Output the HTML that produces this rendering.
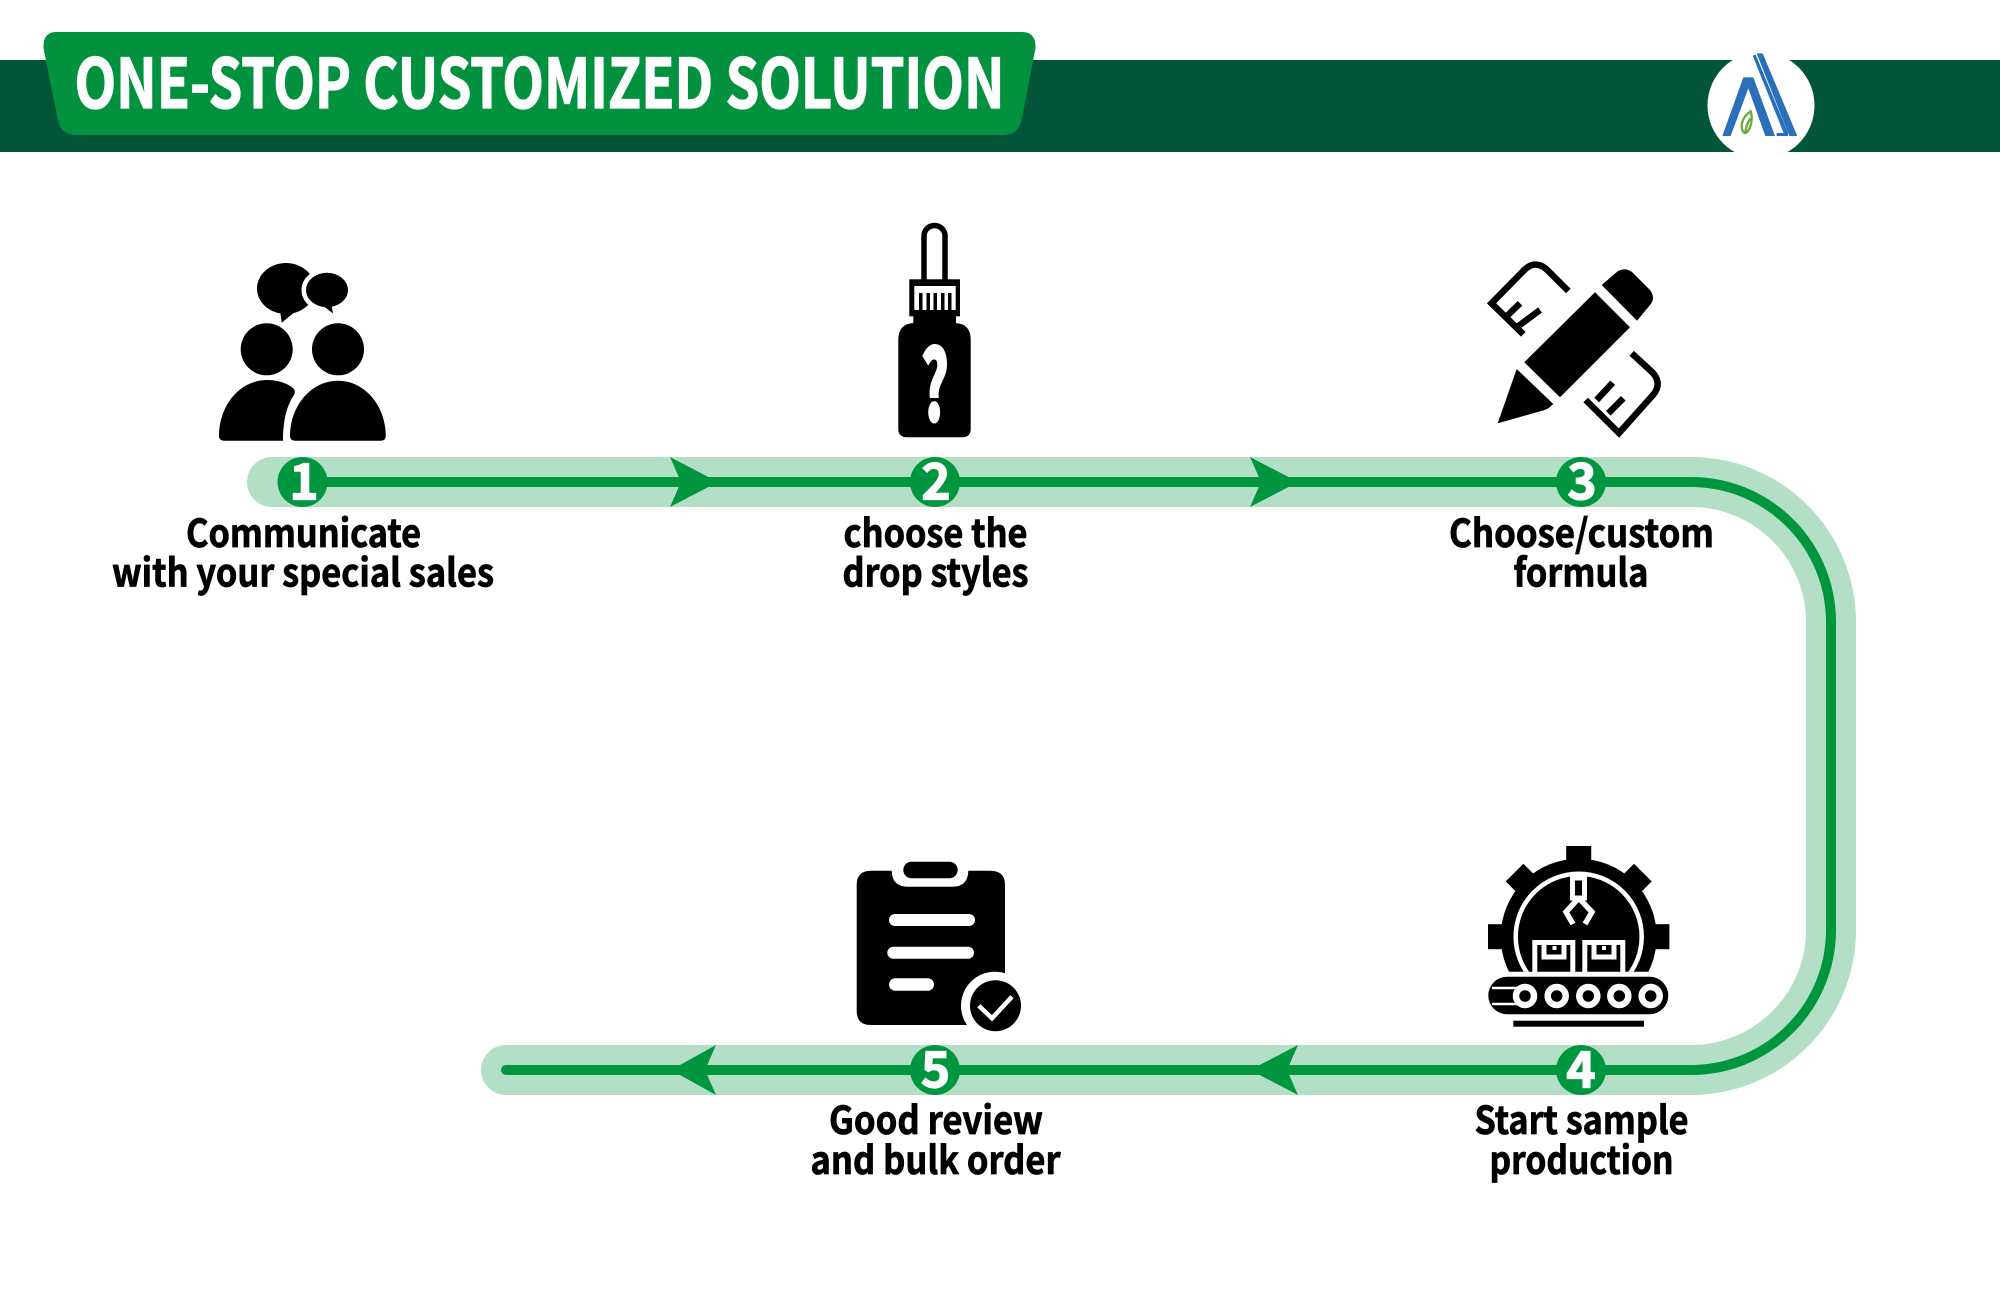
<!DOCTYPE html>
<html><head><meta charset="utf-8"><style>
html,body{margin:0;padding:0;background:#fff;width:2000px;height:1307px;overflow:hidden}
svg{display:block}
text{font-family:"Noto Sans CJK SC","Liberation Sans",sans-serif;font-weight:700}
.l{font-size:38.500px;fill:#000;stroke:#000;stroke-width:.8px}
.d{font-size:50px;fill:#fff;stroke:#fff;stroke-width:1.2px;text-anchor:middle}
</style></head><body>
<svg width="2000" height="1307" viewBox="0 0 2000 1307" xmlns="http://www.w3.org/2000/svg">
<defs><clipPath id="gc"><rect x="1470" y="830" width="220" height="141.7"/></clipPath></defs>
<!-- header -->
<rect x="0" y="60" width="2000" height="92" fill="#03553a"/>
<path d="M43.500 48 Q43 32 56 32 H1022 Q1036 32 1035.500 48 L1022 118 Q1019 135 1003 135 H76 Q60 135 57.500 118 Z" fill="#02923f"/>
<text x="74.500" y="108" font-size="68" fill="#fff" stroke="#fff" stroke-width="1.300" textLength="930" lengthAdjust="spacingAndGlyphs">ONE-STOP CUSTOMIZED SOLUTION</text>
<!-- logo -->
<circle cx="1761" cy="105.500" r="53.500" fill="#fff"/>
<g transform="translate(1680,40) scale(.33333)">
<polygon points="127,288 190,112 220,112 285,288 256,288 205,145 152,288" fill="#2a6fba"/>
<polygon points="230,40 248,40 352,288 328,288" fill="#2a6fba"/>
<polygon points="218,47 227,44 324,278 324,288 290,288 290,279 311,279" fill="#2a6fba"/>
<path d="M212 214 C185 232 178 262 192 278 C205 285 222 245 212 214Z" fill="none" stroke="#6aab3b" stroke-width="7"/>
<path d="M197 282 C195 262 205 245 212 235" fill="none" stroke="#6aab3b" stroke-width="7"/>
</g>
<!-- path -->
<path d="M272 482 H1691 A140 140 0 0 1 1831 622 V930 A140 140 0 0 1 1691 1070 H506" fill="none" stroke="#b2dfc5" stroke-width="50" stroke-linecap="round"/>
<path d="M302 482 H1691 A140 140 0 0 1 1831 622 V930 A140 140 0 0 1 1691 1070 H506" fill="none" stroke="#009640" stroke-width="10" stroke-linecap="round"/>
<polygon points="718,482 670,457 681,482 670,507" fill="#009640"/>
<polygon points="1298,482 1250,457 1261,482 1250,507" fill="#009640"/>
<polygon points="1250,1070 1298,1045 1287,1070 1298,1095" fill="#009640"/>
<polygon points="671,1070 716,1045 705,1070 716,1095" fill="#009640"/>
<!-- number circles -->
<g fill="#009640">
<circle cx="302.500" cy="482" r="25"/><circle cx="935" cy="482" r="25"/><circle cx="1581" cy="482" r="25"/>
<circle cx="1581" cy="1070" r="25"/><circle cx="935" cy="1070" r="25"/>
</g>
<text class="d" x="304" y="499.500">1</text>
<text class="d" x="936" y="499.500">2</text>
<text class="d" x="1582" y="499.500">3</text>
<text class="d" x="1581" y="1087.500">4</text>
<text class="d" x="935.500" y="1087.500">5</text>
<!-- labels -->
<text class="l" x="186" y="547" textLength="235" lengthAdjust="spacingAndGlyphs">Communicate</text>
<text class="l" x="112" y="586.500" textLength="382" lengthAdjust="spacingAndGlyphs">with your special sales</text>
<text class="l" x="843.500" y="547" textLength="184" lengthAdjust="spacingAndGlyphs">choose the</text>
<text class="l" x="842.500" y="586.500" textLength="186" lengthAdjust="spacingAndGlyphs">drop styles</text>
<text class="l" x="1449" y="547" textLength="265" lengthAdjust="spacingAndGlyphs">Choose/custom</text>
<text class="l" x="1513.500" y="586.500" textLength="135" lengthAdjust="spacingAndGlyphs">formula</text>
<text class="l" x="1474.500" y="1134" textLength="214" lengthAdjust="spacingAndGlyphs">Start sample</text>
<text class="l" x="1489.500" y="1174" textLength="184" lengthAdjust="spacingAndGlyphs">production</text>
<text class="l" x="829" y="1134" textLength="214" lengthAdjust="spacingAndGlyphs">Good review</text>
<text class="l" x="810.500" y="1174" textLength="250" lengthAdjust="spacingAndGlyphs">and bulk order</text>
<!-- people -->
<g fill="#000">
<ellipse cx="286" cy="288.500" rx="29" ry="25.500"/>
<polygon points="280,310 281.700,322.700 296,311"/>
<circle cx="266.700" cy="349.300" r="26"/>
<circle cx="338" cy="349.300" r="26"/>
<path d="M219 436 C219 405 240 380 267 380 C277 380 287 383 293 388 Q296 391 294 395 C287 405 283 420 283 440.700 H224 Q219 440.700 219 436Z"/>
<path d="M290 436 C290 405 312 380.700 338 380.700 C364 380.700 385.700 405 385.700 436 Q385.700 440.700 381 440.700 H295 Q290 440.700 290 436Z"/>
<ellipse cx="327" cy="290" rx="21" ry="17.200" stroke="#fff" stroke-width="9" paint-order="stroke"/>
<polygon points="322,305 333,313.500 331,303"/>
</g>
<!-- bottle -->
<g>
<path d="M924 282 V236 A10.500 10.500 0 0 1 945 236 V282" fill="none" stroke="#000" stroke-width="5.500"/>
<rect x="909.300" y="279.300" width="50.700" height="37" fill="#000"/>
<rect x="914.300" y="286" width="41.400" height="24" fill="#fff"/>
<g fill="#000">
<rect x="919" y="293" width="3.500" height="17"/><rect x="926.500" y="293" width="3.500" height="17"/>
<rect x="933.500" y="293" width="3.500" height="17"/><rect x="941" y="293" width="3.500" height="17"/><rect x="948" y="293" width="3.500" height="17"/>
<rect x="913.300" y="316" width="42.700" height="10"/>
<path d="M898.300 340 Q898.300 323 915 323 H954 Q970.700 323 970.700 340 V429 Q970.700 437.300 962 437.300 H907 Q898.300 437.300 898.300 429Z"/>
</g>
<text x="935" y="420" font-size="96" fill="#fff" stroke="#fff" stroke-width="4" text-anchor="middle" textLength="27" lengthAdjust="spacingAndGlyphs">?</text>
</g>
<!-- pencil and ruler -->
<g fill="#000">
<path d="M1601.700 285 L1618 271 Q1625 267 1632 272 L1650 290 Q1656 298 1650 305 L1637 320.700 Z"/>
<polygon points="1595,292.300 1630,327.300 1560,397.300 1524.300,362.300"/>
<path d="M1516.700 369 L1553.300 404 L1548 408.500 Q1546 409.500 1543 410.500 L1497.700 423.300Z"/>
</g>
<g fill="none" stroke="#000" stroke-width="6.500">
<path d="M1568.300 291 L1548.300 271 Q1536.700 259 1525 269.300 L1491.500 303.300 L1523.300 334.300"/>
<path d="M1505.700 317.300 L1520 303.300 M1516.700 327.300 L1540 310"/>
<path d="M1631.700 353.300 L1651.700 371.700 Q1663 383 1653 395 L1619 433 L1585.700 400"/>
<path d="M1612.700 382.700 L1596.700 400 M1623.300 398.300 L1608.300 413.300"/>
</g>
<!-- factory -->
<g clip-path="url(#gc)">
<circle cx="1578.700" cy="936.700" r="78" fill="#000"/>
<g fill="#000" transform="translate(1578.700,936.700)">
<rect x="-12.500" y="-90.700" width="25" height="25"/>
<rect x="-12.500" y="-90.700" width="25" height="25" transform="rotate(45)"/>
<rect x="-12.500" y="-90.700" width="25" height="25" transform="rotate(-45)"/>
<rect x="-12.500" y="-90.700" width="25" height="25" transform="rotate(90)"/>
<rect x="-12.500" y="-90.700" width="25" height="25" transform="rotate(-90)"/>
</g>
<circle cx="1578.700" cy="936.700" r="63" fill="none" stroke="#fff" stroke-width="4.500"/>
</g>
<g fill="none" stroke="#fff" stroke-width="5">
<rect x="1534.800" y="942.500" width="38" height="32"/>
<rect x="1584.800" y="942.500" width="38" height="32"/>
<path d="M1544 942 V957 H1564 V942 M1594 942 V957 H1614 V942"/>
<rect x="1572.500" y="878" width="12" height="20"/>
<path d="M1578.700 898 L1566 912 L1573 924 M1578.700 898 L1592 912 L1585 924" stroke-width="5.500"/>
</g>
<g fill="#fff"><rect x="1552.500" y="946" width="4" height="4"/><rect x="1602" y="946" width="4" height="4"/></g>
<rect x="1488.300" y="976.700" width="180" height="37.600" rx="18.800" fill="#000"/>
<g>
<path d="M1492 988 H1518 M1492 1004 H1518" stroke="#fff" stroke-width="2.500"/>
<g fill="#000" stroke="#fff" stroke-width="6.500">
<circle cx="1525" cy="996" r="9"/><circle cx="1556.700" cy="996" r="9"/><circle cx="1588.300" cy="996" r="9"/><circle cx="1619.300" cy="996" r="9"/><circle cx="1650.700" cy="996" r="9"/>
</g>
</g>
<rect x="1513.300" y="1020.700" width="130.700" height="6" fill="#000"/>
<!-- clipboard -->
<g>
<path d="M871 870.700 H891.700 Q892 886.700 908 886.700 H952 Q968 886.700 968.300 870.700 H990 Q1005 870.700 1005 885 V1025 H871 Q856.700 1025 856.700 1011 V885 Q856.700 870.700 871 870.700Z" fill="#000"/>
<rect x="903.300" y="861.700" width="54.400" height="16.600" rx="8.300" fill="#000"/>
<g fill="#fff">
<rect x="889" y="914" width="86" height="12" rx="6"/>
<rect x="887.300" y="946.700" width="86.700" height="12" rx="6"/>
<rect x="889" y="978.300" width="45" height="12.400" rx="6.200"/>
</g>
<circle cx="995" cy="1005.700" r="34" fill="#fff"/>
<circle cx="995.500" cy="1005.700" r="25.500" fill="#000"/>
<path d="M978.800 1005.700 L992 1018.300 L1012 996.700" fill="none" stroke="#fff" stroke-width="4.500"/>
</g>
</svg>
</body></html>
